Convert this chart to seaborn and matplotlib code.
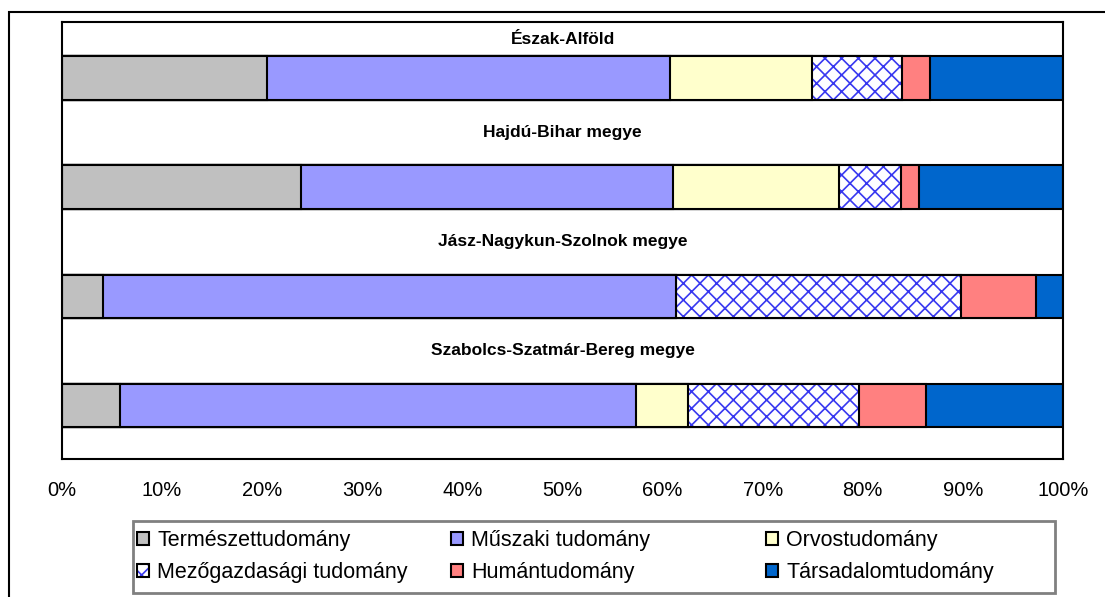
import matplotlib
matplotlib.use("Agg")
import matplotlib.pyplot as plt
from matplotlib.patches import Patch, Rectangle
import numpy as np
import pandas as pd
import seaborn as sns

regions = ["Észak-Alföld", "Hajdú-Bihar megye", "Jász-Nagykun-Szolnok megye",
           "Szabolcs-Szatmár-Bereg megye"]
fields = ["Természettudomány", "Műszaki tudomány", "Orvostudomány",
          "Mezőgazdasági tudomány", "Humántudomány", "Társadalomtudomány"]
termeszet = [20.5, 23.9, 4.1, 5.8]
muszaki = [40.2, 37.1, 57.2, 51.5]
orvos = [14.2, 16.6, 0.0, 5.2]
mezogazd = [9.0, 6.2, 28.5, 17.1]
human = [2.8, 1.8, 7.5, 6.7]
tarsadalom = [13.3, 14.4, 2.7, 13.7]

colors = ["#C0C0C0", "#9999FF", "#FFFFCC", "#FFFFFF", "#FF8080", "#0066CC"]
hatches = [None, None, None, "xx", None, None]
hatch_col = "#3838F0"

sns.set_theme(style="white")
plt.rcParams["font.family"] = ["Liberation Sans", "DejaVu Sans"]
plt.rcParams["text.color"] = "black"
plt.rcParams["xtick.color"] = "black"
plt.rcParams["hatch.color"] = hatch_col
plt.rcParams["hatch.linewidth"] = 1.2

df = pd.DataFrame({"region": regions, fields[0]: termeszet, fields[1]: muszaki,
                   fields[2]: orvos, fields[3]: mezogazd, fields[4]: human,
                   fields[5]: tarsadalom})
cum = df[fields].cumsum(axis=1)

fig = plt.figure(figsize=(11.05, 5.97), dpi=100)
ax = fig.add_axes([62 / 1105, 1 - 459 / 597, (1063 - 62) / 1105, (459 - 22) / 597])

# stacked bars: draw cumulative totals from the last field backwards
for i in range(len(fields) - 1, -1, -1):
    sns.barplot(x=cum[fields[i]], y=df["region"], orient="h", ax=ax, width=0.4,
                color=colors[i], saturation=1, edgecolor="black", linewidth=1.5,
                hatch=hatches[i])


def fix_hatch(p):
    if p.get_hatch():
        if hasattr(p, "set_hatchcolor"):
            p.set_hatchcolor(hatch_col)
        else:
            p._hatch_color = matplotlib.colors.to_rgba(hatch_col)


for p in ax.patches:
    fix_hatch(p)

label_y = [-0.358, 0.5, 1.5, 2.5]
for name, yy in zip(regions, label_y):
    ax.text(50, yy, name, ha="center", va="center", fontsize=12.5, fontweight="bold")

ax.set_xlim(0, 100)
ax.set_ylim(3.49, -0.514)
ax.set_yticks([])
ax.set_ylabel("")
ax.set_xlabel("")
ax.set_xticks(np.arange(0, 101, 10))
ax.set_xticklabels([f"{v}%" for v in range(0, 101, 10)], fontsize=14.5)
ax.tick_params(axis="x", direction="out", length=6, width=1.5, color="black", pad=10)
for s in ax.spines.values():
    s.set_visible(True)
    s.set_color("black")
    s.set_linewidth(1.5)

# legend: three columns placed like the original, one frame round them
col_x = [137, 451, 766]
col_items = [[0, 3], [1, 4], [2, 5]]
for cx, items in zip(col_x, col_items):
    hs = []
    for k in items:
        h = Patch(facecolor=colors[k], edgecolor="black", linewidth=1.5, hatch=hatches[k])
        fix_hatch(h)
        hs.append(h)
    fig.legend(hs, [fields[k] for k in items], loc="upper left",
               bbox_to_anchor=(cx / 1105, 1 - 530 / 597), frameon=False,
               fontsize=15.5, handlelength=0.55, handleheight=0.55, handletextpad=0.4,
               labelspacing=0.5, borderpad=0, borderaxespad=0)

fig.patches.append(Rectangle((133 / 1105, 1 - 593 / 597), (1055 - 133) / 1105, (593 - 521) / 597,
                             transform=fig.transFigure, fill=False,
                             edgecolor="#808080", linewidth=2))
fig.patches.append(Rectangle((9 / 1105, -0.2), 2, 1 - 12 / 597 + 0.2,
                             transform=fig.transFigure, fill=False,
                             edgecolor="black", linewidth=1.5))

fig.savefig("out.png", dpi=100)
